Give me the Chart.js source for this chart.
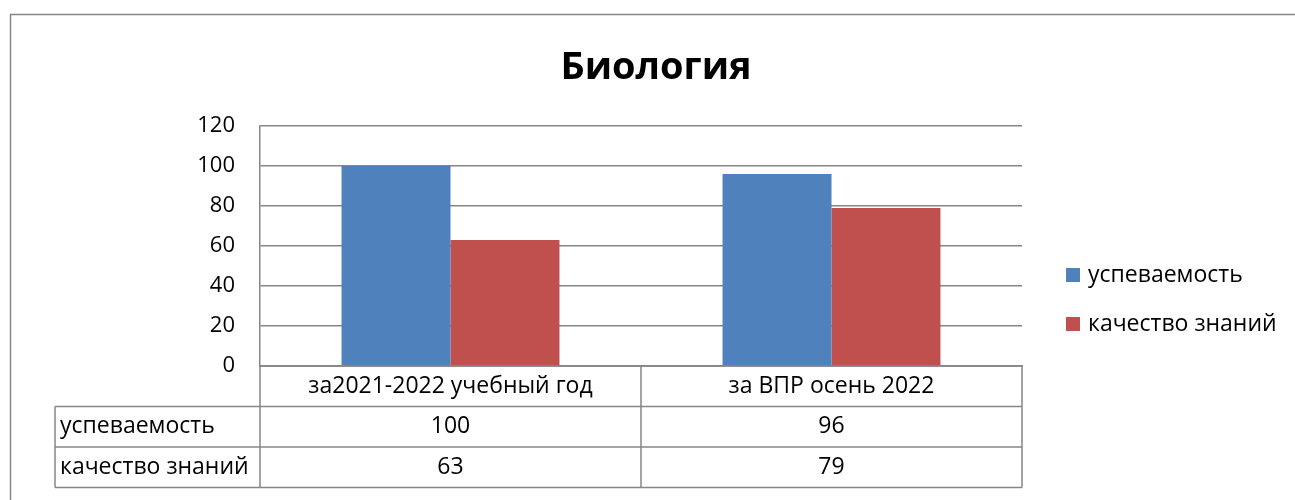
<!DOCTYPE html>
<html>
<head>
<meta charset="utf-8">
<script src="https://cdn.jsdelivr.net/npm/chart.js@4"></script>
<style>body{margin:0;background:#fff}</style>
</head>
<body>
<canvas id="bioChart" width="1295" height="500"></canvas>
<script>
const chartTitle = "Биология";
const categories = ["за2021-2022 учебный год", "за ВПР осень 2022"];
const seriesNames = ["успеваемость", "качество знаний"];
const uspevaemost = [100, 96];
const kachestvo = [63, 79];
const yTicks = [0, 20, 40, 60, 80, 100, 120];

const colors = ["#4F81BD", "#C0504D"];
const FONT = "'Open Sans', sans-serif";
const LINE = "#868686";

// frame, title, legend and the data table under the plot
const extras = {
  id: "extras",
  afterDraw(chart) {
    const { ctx, chartArea: a, scales: { x } } = chart;
    ctx.save();
    ctx.strokeStyle = LINE;
    ctx.lineWidth = 1.5;
    ctx.strokeRect(10.5, 14.5, 1300, 520);

    ctx.fillStyle = "#000";
    ctx.textAlign = "center";
    ctx.textBaseline = "middle";
    ctx.font = "bold 38px " + FONT;
    ctx.fillText(chartTitle, 656, 68);

    // legend
    const sets = chart.data.datasets;
    ctx.font = "23px " + FONT;
    ctx.textAlign = "left";
    sets.forEach((ds, i) => {
      const y = 275 + i * 49;
      ctx.fillStyle = ds.backgroundColor;
      ctx.fillRect(1066, y - 7, 14, 14);
      ctx.fillStyle = "#000";
      ctx.fillText(ds.label, 1088, y);
    });

    // table
    const rowH = 40.5;
    const tLeft = 55;
    const p0 = x.getPixelForValue(0), p1 = x.getPixelForValue(1);
    const cols = [a.left, (p0 + p1) / 2, a.right];
    const bottom = a.bottom + rowH * 3;
    ctx.lineWidth = 1.5;
    ctx.beginPath();
    cols.forEach(c => { ctx.moveTo(c, a.bottom); ctx.lineTo(c, bottom); });
    ctx.moveTo(tLeft, a.bottom + rowH); ctx.lineTo(tLeft, bottom);
    for (let r = 1; r <= 3; r++) {
      const y = a.bottom + rowH * r;
      ctx.moveTo(tLeft, y); ctx.lineTo(a.right, y);
    }
    ctx.moveTo(a.left, a.bottom); ctx.lineTo(a.right, a.bottom);
    ctx.stroke();

    ctx.fillStyle = "#000";
    ctx.font = "23px " + FONT;
    ctx.textAlign = "center";
    categories.forEach((c, i) => {
      const cx = (cols[i] + cols[i + 1]) / 2;
      ctx.fillText(c, cx, a.bottom + rowH / 2);
      sets.forEach((ds, j) => {
        ctx.fillText(String(ds.data[i]), cx, a.bottom + rowH * (j + 1.5));
      });
    });
    ctx.textAlign = "left";
    sets.forEach((ds, j) => {
      ctx.fillText(ds.label, tLeft + 5, a.bottom + rowH * (j + 1.5));
    });
    ctx.restore();
  }
};

new Chart(document.getElementById("bioChart"), {
  type: "bar",
  data: {
    labels: categories,
    datasets: [
      { label: seriesNames[0], data: uspevaemost, backgroundColor: colors[0] },
      { label: seriesNames[1], data: kachestvo, backgroundColor: colors[1] }
    ]
  },
  options: {
    responsive: false,
    animation: false,
    layout: { padding: { top: 126, right: 273, left: 0, bottom: 0 } },
    datasets: { bar: { categoryPercentage: 0.572, barPercentage: 1 } },
    plugins: { legend: { display: false }, tooltip: { enabled: false } },
    scales: {
      x: {
        grid: { display: false },
        ticks: { display: false },
        border: { display: true, color: LINE, width: 1.5 },
        afterFit: s => { s.height = 134; }
      },
      y: {
        min: yTicks[0],
        max: yTicks[yTicks.length - 1],
        afterBuildTicks: s => { s.ticks = yTicks.map(v => ({ value: v })); },
        afterFit: s => { s.width = 260; },
        grid: { color: LINE, lineWidth: 1.5, drawTicks: false },
        border: { display: true, color: LINE, width: 1.5 },
        ticks: { color: "#000", font: { family: FONT, size: 22 }, padding: 25 }
      }
    }
  },
  plugins: [extras]
});
</script>
</body>
</html>
